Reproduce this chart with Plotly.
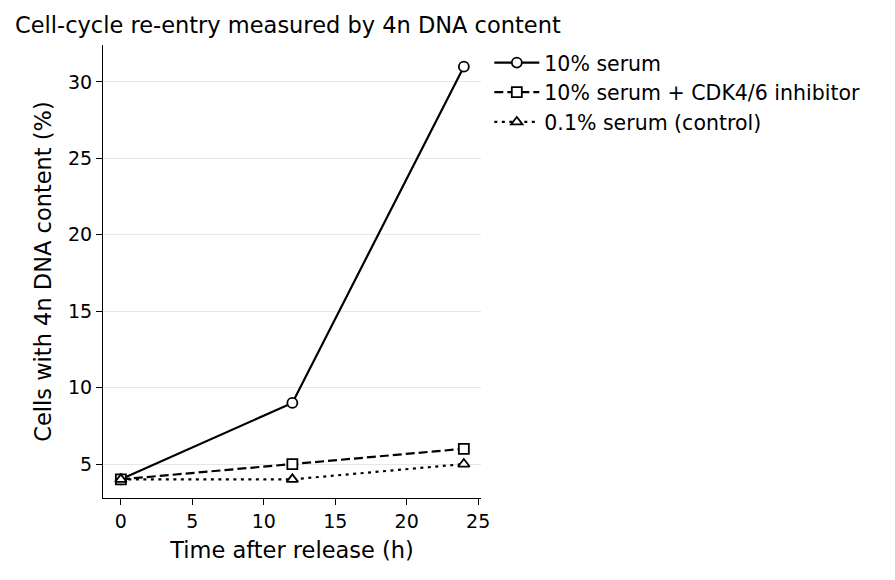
import plotly.graph_objects as go

# Данные
hours = [0, 12, 24]
serum_10 = [4, 9, 31]
serum_10_cdk = [4, 5, 6]
serum_01 = [4, 4, 5]

series = [
    ("10% serum", serum_10, "solid", "circle"),
    ("10% serum + CDK4/6 inhibitor", serum_10_cdk, "9px,4px", "square"),
    ("0.1% serum (control)", serum_01, "3px,4.5px", "triangle-up"),
]

fig = go.Figure()
for name, vals, dash, symbol in series:
    fig.add_trace(go.Scatter(
        x=hours, y=vals, name=name, mode="lines+markers",
        line=dict(color="black", width=2.2, dash=dash),
        marker=dict(symbol=symbol, size=10, color="white", line=dict(width=1.8, color="black")),
    ))

# страница имеет отступ 8px, поэтому поля сдвинуты
fig.update_layout(
    width=895, height=580,
    margin=dict(l=95, r=422, t=37, b=90),
    paper_bgcolor="white", plot_bgcolor="white",
    font=dict(family="DejaVu Sans", size=19, color="black"),
    title=dict(text="Cell-cycle re-entry measured by 4n DNA content",
               x=7 / 895, xanchor="left", y=1 - 17 / 580, yanchor="middle",
               font=dict(size=22.5)),
    legend=dict(x=1.022, y=1.005, xanchor="left", yanchor="top",
                bgcolor="rgba(0,0,0,0)", font=dict(size=20.5), tracegroupgap=0,
                itemwidth=45),
    showlegend=True,
)
fig.update_xaxes(
    title=dict(text="Time after release (h)", font=dict(size=22.5), standoff=11),
    range=[-1.25, 25.2], tickvals=[0, 5, 10, 15, 20, 25],
    tickfont=dict(size=19),
    showline=True, linecolor="black", linewidth=1.2,
    ticks="outside", ticklen=6, tickcolor="black",
    showgrid=False, zeroline=False,
)
fig.update_yaxes(
    title=dict(text="Cells with 4n DNA content (%)", font=dict(size=22.5), standoff=10),
    range=[2.78, 32.42], tickvals=[5, 10, 15, 20, 25, 30],
    tickfont=dict(size=19),
    showline=True, linecolor="black", linewidth=1.2,
    ticks="outside", ticklen=6, tickcolor="black",
    showgrid=True, gridcolor="#e6e6e6", gridwidth=1, zeroline=False,
)

fig.write_html("out.html")
